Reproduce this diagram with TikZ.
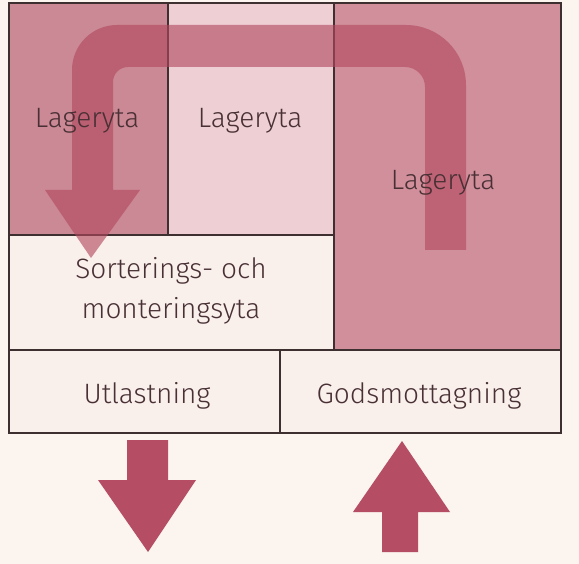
\documentclass[tikz,border=0pt]{standalone}
\usepackage{fontspec}
\setmainfont{Fira Sans}[UprightFont=* Light]
\usepackage{tikz}
\usetikzlibrary{
  positioning
}
\definecolor{paper}{RGB}{251,244,239}
\definecolor{rose}{RGB}{203,136,149}
\definecolor{rosec}{RGB}{209,143,156}
\definecolor{blush}{RGB}{237,207,212}
\definecolor{cream}{RGB}{249,239,235}
\definecolor{flowred}{RGB}{178,72,94}
\definecolor{ink}{RGB}{72,48,52}
\definecolor{frame}{RGB}{62,48,48}
\tikzset{
  x=1pt, y=-1pt,
  zone/.style={draw=frame, line width=1.4pt, inner sep=0pt},
  lbl/.style={text=ink, font=\fontsize{28}{40}\selectfont, align=center},
  flow/.style={fill=flowred, opacity=0.62},
  bigflow/.style={fill=flowred!90!rose}
}

\begin{document}
\begin{tikzpicture}
    \fill[paper] (0,0) rectangle (579,564);
    \useasboundingbox (0,0) rectangle (579,564);
    \node[zone, fill=rose, minimum width=159pt, minimum height=232pt] (la) at (88.5,119) {};
    \node[zone, fill=blush, minimum width=166pt, minimum height=232pt] (lb) at (251,119) {};
    \node[zone, fill=rosec, minimum width=227pt, minimum height=347pt] (lc) at (447.5,176.5) {};
    \node[zone, fill=cream, minimum width=325pt, minimum height=115pt] (sort) at (171.5,292.5) {};
    \node[zone, fill=cream, minimum width=271pt, minimum height=83pt] (ut) at (144.5,391.5) {};
    \node[zone, fill=cream, minimum width=281pt, minimum height=83pt] (gm) at (420.5,391.5) {};
    % flow through the storage
    \fill[flow] (466,250) -- (466,85) arc[start angle=0, end angle=-90, radius=60]
      -- (117,25) arc[start angle=-90, end angle=-180, radius=45]
      -- (72,190) -- (45,190) -- (91,258) -- (140,190) -- (113,190)
      -- (113,82) arc[start angle=180, end angle=270, radius=15]
      -- (405,67) arc[start angle=270, end angle=360, radius=20]
      -- (425,250) -- cycle;
    \node[lbl, anchor=base] (tla) at (87,128) {Lageryta};
    \node[lbl, anchor=base] (tlb) at (250,128) {Lageryta};
    \node[lbl, anchor=base] (tlc) at (443,190) {Lageryta};
    \node[lbl] (tsort) at (171,291) {Sorterings- och\\monteringsyta};
    \node[lbl, anchor=base] (tut) at (147,403) {Utlastning};
    \node[lbl, anchor=base] (tgm) at (419,403) {Godsmottagning};
    % out and in
    \fill[bigflow] (127,440) -- (168,440) -- (168,480) -- (196,480) -- (148,552)
      -- (98,480) -- (127,480) -- cycle;
    \fill[bigflow] (402,441) -- (450,512) -- (418,512) -- (418,552) -- (382,552)
      -- (382,512) -- (353,512) -- cycle;
  \end{tikzpicture}
\end{document}
